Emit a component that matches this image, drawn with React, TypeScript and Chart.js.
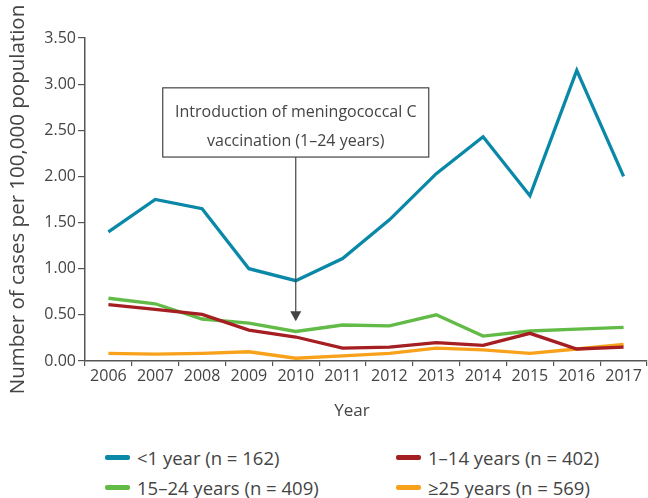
import React, { useEffect, useRef } from "react";
import { Chart, registerables } from "chart.js";

Chart.register(...registerables);

const years = ["2006", "2007", "2008", "2009", "2010", "2011", "2012", "2013", "2014", "2015", "2016", "2017"];
const under1 = [1.40, 1.75, 1.65, 1.00, 0.87, 1.11, 1.53, 2.03, 2.43, 1.79, 3.15, 2.00];
const age1to14 = [0.61, 0.56, 0.505, 0.335, 0.26, 0.14, 0.15, 0.20, 0.17, 0.30, 0.13, 0.15];
const age15to24 = [0.68, 0.62, 0.455, 0.41, 0.32, 0.39, 0.38, 0.50, 0.27, 0.325, 0.345, 0.365];
const age25plus = [0.083, 0.075, 0.083, 0.10, 0.03, 0.055, 0.083, 0.14, 0.12, 0.083, 0.13, 0.18];

const seriesLabels = ["<1 year (n = 162)", "1\u201314 years (n = 402)", "15\u201324 years (n = 409)", "\u226525 years (n = 569)"];
const seriesColors = ["#0A88A8", "#A51E22", "#63BB47", "#F8A21C"];

const yTicks = [0, 0.5, 1, 1.5, 2, 2.5, 3, 3.5];
const xTitle = "Year";
const yTitle = "Number of cases per 100,000 population";

const annotationYear = "2010";
const annotationLines = ["Introduction of meningococcal C", "vaccination (1\u201324 years)"];
const annotationBoxTop = 2.96;
const annotationBoxBottom = 2.21;
const annotationArrowTip = 0.43;

const FONT = "'Open Sans', 'Noto Sans', sans-serif";
const TEXT = "#444444";

const annotationPlugin = {
  id: "vaccAnnotation",
  afterDatasetsDraw(chart: any) {
    const { ctx, scales } = chart;
    const x = scales.x.getPixelForValue(years.indexOf(annotationYear));
    const top = scales.y.getPixelForValue(annotationBoxTop);
    const bottom = scales.y.getPixelForValue(annotationBoxBottom);
    const tip = scales.y.getPixelForValue(annotationArrowTip);
    const halfW = 133;
    ctx.save();
    ctx.fillStyle = "#ffffff";
    ctx.fillRect(x - halfW, top, halfW * 2, bottom - top);
    ctx.strokeStyle = "#444444";
    ctx.lineWidth = 1.2;
    ctx.strokeRect(x - halfW, top, halfW * 2, bottom - top);
    ctx.fillStyle = TEXT;
    ctx.font = "16px " + FONT;
    ctx.textAlign = "center";
    ctx.textBaseline = "middle";
    const h = bottom - top;
    ctx.fillText(annotationLines[0], x, top + h * 0.36);
    ctx.fillText(annotationLines[1], x, top + h * 0.77);
    ctx.beginPath();
    ctx.moveTo(x, bottom);
    ctx.lineTo(x, tip - 8);
    ctx.lineWidth = 1.2;
    ctx.stroke();
    ctx.beginPath();
    ctx.moveTo(x - 5.5, tip - 10);
    ctx.lineTo(x + 5.5, tip - 10);
    ctx.lineTo(x, tip);
    ctx.closePath();
    ctx.fillStyle = "#444444";
    ctx.fill();
    ctx.font = "17px " + FONT;
    ctx.fillStyle = TEXT;
    ctx.textBaseline = "middle";
    ctx.fillText(xTitle, 352, 411);
    ctx.restore();
  },
};

export default function App() {
  const canvasRef = useRef<HTMLCanvasElement | null>(null);

  useEffect(() => {
    document.body.style.margin = "0";
    const canvas = canvasRef.current;
    if (!canvas) return;
    const data = [under1, age1to14, age15to24, age25plus];
    const chart = new Chart(canvas, {
      type: "line",
      data: {
        labels: years,
        datasets: [0, 1, 2, 3].map((i) => ({
          label: seriesLabels[i],
          data: data[i],
          borderColor: seriesColors[i],
          backgroundColor: seriesColors[i],
          borderWidth: 3.3,
          borderJoinStyle: "miter" as const,
          pointRadius: 0,
          tension: 0,
          fill: false,
        })),
      },
      options: {
        animation: false,
        responsive: false,
        maintainAspectRatio: false,
        layout: { padding: { top: 38, right: 1, left: 0, bottom: 0 } },
        plugins: {
          legend: { display: false },
          tooltip: { enabled: false },
        },
        scales: {
          x: {
            type: "category",
            offset: true,
            grid: {
              offset: true,
              drawOnChartArea: false,
              drawTicks: true,
              tickLength: 5,
              color: "#555555",
              lineWidth: 1.2,
            },
            border: { color: "#555555", width: 1.5 },
            ticks: {
              color: TEXT,
              font: { family: FONT, size: 16 },
              padding: 1,
              maxRotation: 0,
              autoSkip: false,
            },
            afterFit(scale: any) {
              scale.height = 69;
            },
          },
          y: {
            min: 0,
            max: 3.5,
            afterBuildTicks(scale: any) {
              scale.ticks = yTicks.map((v) => ({ value: v }));
            },
            grid: {
              drawOnChartArea: false,
              drawTicks: true,
              tickLength: 7,
              color: "#555555",
              lineWidth: 1.2,
            },
            border: { color: "#555555", width: 1.5 },
            ticks: {
              color: TEXT,
              font: { family: FONT, size: 16 },
              padding: 2,
              callback: (v: any) => Number(v).toFixed(2),
            },
            title: {
              display: true,
              text: yTitle,
              color: TEXT,
              font: { family: FONT, size: 20.5 },
              padding: { top: 6, bottom: 0 },
            },
            afterFit(scale: any) {
              scale.width = 85;
            },
          },
        },
      },
      plugins: [annotationPlugin],
    });
    return () => chart.destroy();
  }, []);

  const legendItems = [
    { i: 0, left: 105, top: 457.5 },
    { i: 1, left: 396, top: 457.5 },
    { i: 2, left: 105, top: 487.5 },
    { i: 3, left: 396, top: 487.5 },
  ];

  return (
    <div style={{ position: "relative", width: 648, height: 498, background: "#fff", overflow: "hidden" }}>
      <canvas ref={canvasRef} width={648} height={430} style={{ display: "block", width: 648, height: 430 }} />
      {legendItems.map((it) => (
        <div
          key={it.i}
          style={{
            position: "absolute",
            left: it.left,
            top: it.top - 13,
            height: 26,
            display: "flex",
            alignItems: "center",
            fontFamily: FONT,
            fontSize: 18.5,
            color: TEXT,
            whiteSpace: "nowrap",
          }}
        >
          <span
            style={{
              display: "inline-block",
              width: 25,
              height: 4.5,
              borderRadius: 2,
              background: seriesColors[it.i],
              marginRight: 7,
            }}
          />
          <span>{seriesLabels[it.i]}</span>
        </div>
      ))}
    </div>
  );
}
